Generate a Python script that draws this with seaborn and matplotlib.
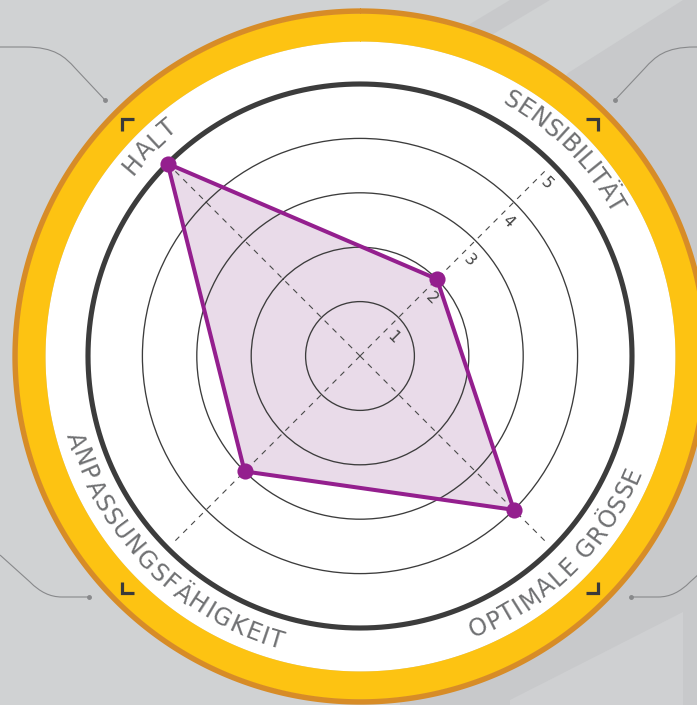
import numpy as np
import pandas as pd
import matplotlib
matplotlib.use("Agg")
import matplotlib.pyplot as plt
import seaborn as sns
from matplotlib.path import Path
from matplotlib.patches import PathPatch
from matplotlib.textpath import TextToPath
from matplotlib.font_manager import FontProperties

# ---------------- data ----------------
categories = ["HALT", "SENSIBILITÄT", "OPTIMALE GRÖSSE", "ANPASSUNGSFÄHIGKEIT"]
values = [5, 2, 4, 3]
ring_levels = [1, 2, 3, 4]
max_level = 5
tick_labels = ["1", "2", "3", "4", "5"]

# ---------------- style ----------------
sns.set_theme(style="white")
plt.rcParams["font.family"] = ["DejaVu Sans"]

W, H, DPI = 697, 705, 100
BG = "#d0d2d3"
PURPLE = "#941f8e"
LAVENDER = "#e9dbe9"
DARK = "#3c3c3c"
YELLOW = "#fdc312"
ORANGE = "#d78c27"
TEXT_GREY = "#6f7072"

fig = plt.figure(figsize=(W / DPI, H / DPI), dpi=DPI)
fig.patch.set_facecolor(BG)

# background decoration axes (pixel coordinates)
bg = fig.add_axes([0, 0, 1, 1])
bg.set_xlim(0, W)
bg.set_ylim(H, 0)
bg.axis("off")
bg.patch.set_alpha(0)
darker = "#c8c9cb"
bg.add_patch(plt.Polygon([(683, 0), (697, 0), (697, 705), (400, 705), (400, 300), (568, 73)],
                         closed=True, color=darker, lw=0, zorder=1))
bg.add_patch(plt.Polygon([(510, 0), (550, 0), (440, 66), (400, 66)],
                         closed=True, color=darker, lw=0, zorder=1))
bg.add_patch(plt.Polygon([(510, 705), (683, 705), (683, 612), (510, 700)],
                         closed=True, color="#cfd0d2", lw=0, zorder=2))

def deco(verts, codes, dot):
    bg.add_patch(PathPatch(Path(verts, codes), fill=False, ec="#88898b", lw=0.8, zorder=3))
    bg.plot([dot[0]], [dot[1]], "o", ms=2.5, color="#88898b", zorder=3)

M, L, C = Path.MOVETO, Path.LINETO, Path.CURVE4
tl = [(0, 47), (25, 47), (55, 47), (65, 57), (75, 68), (105, 100)]
codes_tl = [M, L, C, C, C, L]
deco(tl, codes_tl, (105, 100))
deco([(720 - x, y) for x, y in tl], codes_tl, (615, 100))
blp = [(0, 555), (30, 582), (40, 592), (50, 597), (62, 597), (89, 597)]
deco(blp, codes_tl, (89, 597))
deco([(720 - x, y) for x, y in blp], codes_tl, (631, 597))

# ---------------- polar chart ----------------
UNIT = 54.4          # pixels per value unit
RMAX = 6.45
cx, cy = 360, 356
rad_px = RMAX * UNIT
ax = fig.add_axes([(cx - rad_px) / W, (H - cy - rad_px) / H, 2 * rad_px / W, 2 * rad_px / H],
                  projection="polar")
ax.set_theta_offset(np.deg2rad(135))
ax.set_theta_direction(-1)
ax.set_ylim(0, RMAX)
ax.patch.set_alpha(0)
ax.spines["polar"].set_visible(False)
ax.set_xticks([])
ax.set_yticks(ring_levels)
ax.set_yticklabels([])
ax.grid(True)
ax.xaxis.grid(False)
ax.yaxis.grid(True, color=DARK, lw=0.95)
ax.set_axisbelow(False)

tt = np.linspace(0, 2 * np.pi, 721)
# white disk, yellow ring, orange edge
ax.fill_between(tt, 0, 5.79, color="white", lw=0, zorder=0.1)
ax.fill_between(tt, 5.79, 6.31, color=YELLOW, lw=0, zorder=0.2)
ax.fill_between(tt, 6.30, 6.40, color=ORANGE, lw=0, zorder=0.3)
# thick outer ring at max level
ax.plot(tt, np.full_like(tt, max_level), color=DARK, lw=3.7, zorder=2.6)

n = len(categories)
thetas = np.arange(n) * 2 * np.pi / n
# dashed spokes
for th in thetas:
    ax.plot([th, th], [0, 4.88], color="#4a4a4a", lw=0.8, ls=(0, (5, 5)), zorder=3)

df = pd.DataFrame({"theta": thetas, "value": values, "category": categories})
closed = pd.concat([df, df.iloc[[0]].assign(theta=2 * np.pi)], ignore_index=True)

ax.fill(closed["theta"], closed["value"], color=LAVENDER, lw=0, zorder=1)
sns.lineplot(data=closed, x="theta", y="value", sort=False, color=PURPLE, lw=2.9,
             ax=ax, zorder=4)
sns.scatterplot(data=df, x="theta", y="value", color=PURPLE, s=135, linewidth=0,
                ax=ax, zorder=5, legend=False)
ax.set_xlabel("")
ax.set_ylabel("")
ax.set_ylim(0, RMAX)

# radial tick labels along SENSIBILITÄT spoke
for lvl, lab in zip(range(1, max_level + 1), tick_labels):
    ax.annotate(lab, xy=(thetas[1], lvl), xytext=(-4.1, -14.0), textcoords="offset points",
                rotation=-45, ha="center", va="center", rotation_mode="anchor",
                fontsize=11.5, color="#444444", zorder=6)

# curved category labels
fs = 17
prop = FontProperties(family="DejaVu Sans", size=fs)
ttp = TextToPath()
def char_w(ch):
    if ch == " ":
        w1 = ttp.get_text_width_height_descent("A A", prop, ismath=False)[0]
        w2 = ttp.get_text_width_height_descent("AA", prop, ismath=False)[0]
        return (w1 - w2) * DPI / 72
    return ttp.get_text_width_height_descent(ch, prop, ismath=False)[0] * DPI / 72

spans = [9.6, 28.5, 42.8, 57.0]      # degrees, centre of first to centre of last char
R_TXT_PX = 297.0
R_TXT = R_TXT_PX / UNIT
for i, (lab, span) in enumerate(zip(categories, spans)):
    phi_c = 135 - 90 * i
    phi_c = (phi_c + 180) % 360 - 180
    top = phi_c > 0
    ws = [char_w(c) for c in lab]
    gaps = [(ws[k] + ws[k + 1]) / 2 for k in range(len(ws) - 1)]
    extra = (np.deg2rad(span) * R_TXT_PX - sum(gaps)) / max(len(gaps), 1)
    pos = np.concatenate([[0], np.cumsum(np.array(gaps) + extra)])
    pos = pos - pos[-1] / 2
    for ch, p in zip(lab, pos):
        dphi = np.rad2deg(p / R_TXT_PX)
        phi = phi_c - dphi if top else phi_c + dphi
        rot = phi - 90 if top else phi + 90
        theta = np.deg2rad(135 - phi)
        ax.text(theta, R_TXT, ch, rotation=rot, rotation_mode="anchor",
                ha="center", va="center", fontsize=fs, color=TEXT_GREY, zorder=6)

# foreground decoration: corner brackets
fg = fig.add_axes([0, 0, 1, 1])
fg.set_xlim(0, W)
fg.set_ylim(H, 0)
fg.axis("off")
fg.patch.set_alpha(0)
bk = dict(color="#3a3a3a", lw=2.3, solid_capstyle="butt", solid_joinstyle="miter")
fg.plot([134, 122, 122], [119, 119, 131], **bk)
fg.plot([586, 598, 598], [119, 119, 131], **bk)
fg.plot([122, 122, 134], [582, 593, 593], **bk)
fg.plot([598, 598, 586], [582, 593, 593], **bk)

fig.savefig("out.png", dpi=DPI, facecolor=fig.get_facecolor())
